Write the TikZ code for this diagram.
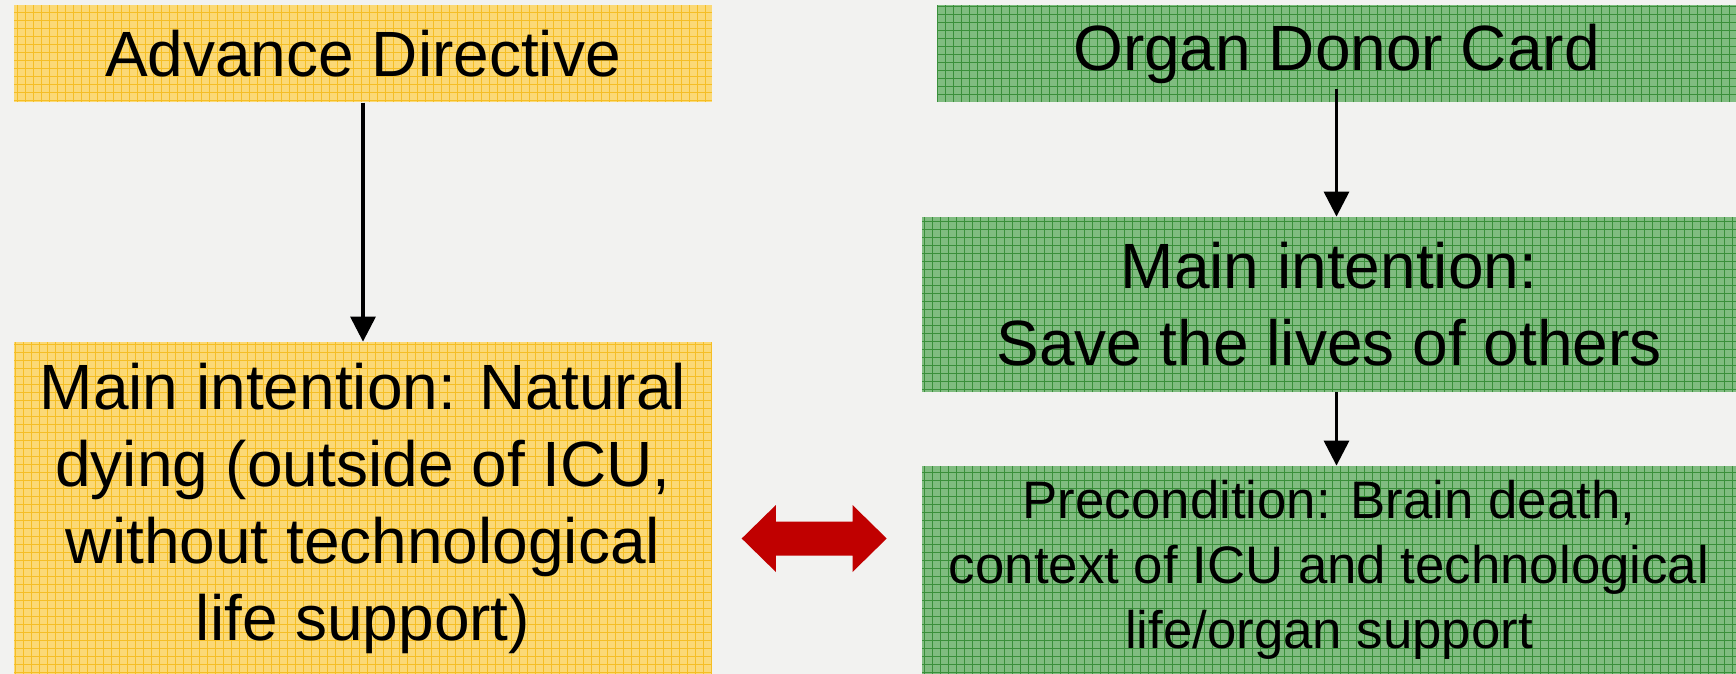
\documentclass[tikz,border=0pt]{standalone}
\usepackage{fontspec}
\setmainfont{Liberation Sans}
\usetikzlibrary{arrows.meta}
\definecolor{bg}{HTML}{F2F2F0}
\definecolor{yfill}{HTML}{FBD976}
\definecolor{ygrid}{HTML}{F5BE25}
\definecolor{gfill}{HTML}{80BC80}
\definecolor{ggrid}{HTML}{3A8F3A}
\definecolor{arrowred}{HTML}{C00000}
\begin{document}
\begin{tikzpicture}[x=0.5pt,y=-0.5pt,
  box/.style={rectangle, inner sep=0pt, align=center, anchor=center},
  ybox/.style={box, fill=yfill, path picture={\draw[ygrid, line width=0.5pt, step=4pt] (path picture bounding box.south west) grid (path picture bounding box.north east);}},
  gbox/.style={box, fill=gfill, path picture={\draw[ggrid, line width=0.5pt, step=4pt] (path picture bounding box.south west) grid (path picture bounding box.north east);}},
  big/.style={font=\fontsize{32}{38.5}\selectfont},
  small/.style={font=\fontsize{26.4}{32.5}\selectfont},
  arr/.style={-{Triangle[width=12.5pt,length=12.5pt]}, line width=1.65pt, black}]
\useasboundingbox (0,0) rectangle (1736,674);
\fill[bg] (0,0) rectangle (1736,674);

\node[ybox, big, minimum width=349pt, minimum height=48.5pt] (AD) at (363,53.75) {Advance Directive};
\node[ybox, big, minimum width=349pt, minimum height=166pt] (LM) at (363,508)
  {Main intention: Natural\\dying (outside of ICU,\\without technological\\life support)};

\node[gbox, big, minimum width=399.5pt, minimum height=48.5pt] (ODC) at (1336.5,53.75) {Organ Donor Card};
\node[gbox, big, minimum width=407pt, minimum height=87.5pt] (GM) at (1329,304.5)
  {Main intention:\\Save the lives of others};
\node[gbox, small, minimum width=407pt, minimum height=104pt] (GB) at (1329,570)
  {Precondition: Brain death,\\context of ICU and technological\\life/organ support};

\draw[arr] (AD.south) -- (LM.north);
\draw[arr] ([yshift=7pt]ODC.south) -- (ODC.south |- GM.north);
\draw[arr] (ODC.south |- GM.south) -- (ODC.south |- GB.north);

\coordinate (dbl) at (814.2,538.5);
\fill[arrowred] ([shift={(-72.5,0)}]dbl) -- ([shift={(-38.3,-33.5)}]dbl) -- ([shift={(-38.3,-17)}]dbl)
  -- ([shift={(38.3,-17)}]dbl) -- ([shift={(38.3,-33.5)}]dbl) -- ([shift={(72.5,0)}]dbl)
  -- ([shift={(38.3,33.5)}]dbl) -- ([shift={(38.3,17)}]dbl) -- ([shift={(-38.3,17)}]dbl)
  -- ([shift={(-38.3,33.5)}]dbl) -- cycle;
\end{tikzpicture}
\end{document}
